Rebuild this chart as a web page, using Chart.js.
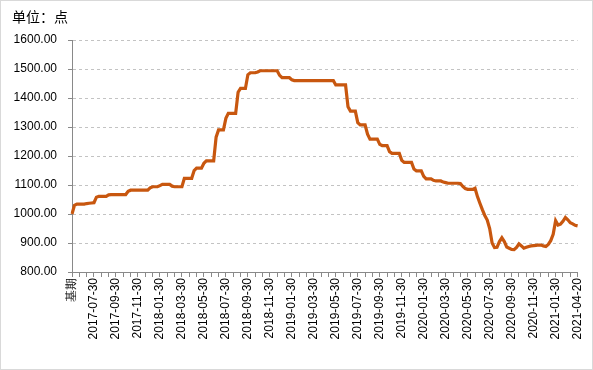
<!DOCTYPE html>
<html>
<head>
<meta charset="utf-8">
<script src="https://cdn.jsdelivr.net/npm/chart.js@4/dist/chart.umd.min.js"></script>
<style>
  html, body { margin: 0; padding: 0; background: #fff; }
  #wrap { position: relative; width: 593px; height: 370px; }
  #frame { position: absolute; left: 0; top: 0; right: 0; bottom: 0; border: 1px solid #d9d9d9; pointer-events: none; }
  #unit { position: absolute; left: 12px; top: 6px; font: 14px "Noto Sans CJK SC", sans-serif; color: #000; }
</style>
</head>
<body>
<div id="wrap">
  <canvas id="chart" width="593" height="370"></canvas>
  <div id="unit">单位：点</div>
  <div id="frame"></div>
</div>
<script>
// 可见的横轴标签（每 9 个数据点一个）
const tickLabels = [
    '基期', '2017-07-30', '2017-09-30', '2017-11-30',
    '2018-01-30', '2018-03-30', '2018-05-30', '2018-07-30', '2018-09-30', '2018-11-30',
    '2019-01-30', '2019-03-30', '2019-05-30', '2019-07-30', '2019-09-30', '2019-11-30',
    '2020-01-30', '2020-03-30', '2020-05-30', '2020-07-30', '2020-09-30', '2020-11-30',
    '2021-01-30', '2021-04-20'
];
const labelStep = 9;

// 指数值（点）
const indexValues = [
    1000, 1030, 1034, 1034, 1034, 1034, 1036, 1037, 1038, 1039,
    1058, 1061, 1061, 1061, 1061, 1066, 1067, 1067, 1067, 1067,
    1067, 1067, 1067, 1078, 1082, 1082, 1082, 1082, 1082, 1082,
    1082, 1082, 1090, 1094, 1094, 1094, 1098, 1102, 1102, 1102,
    1102, 1096, 1094, 1094, 1094, 1094, 1123, 1123, 1123, 1123,
    1150, 1158, 1158, 1158, 1175, 1183, 1183, 1183, 1183, 1265,
    1290, 1290, 1290, 1330, 1347, 1347, 1347, 1347, 1420, 1433,
    1433, 1433, 1480, 1487, 1487, 1487, 1490, 1494, 1494, 1494,
    1494, 1494, 1494, 1494, 1494, 1478, 1470, 1470, 1470, 1470,
    1463, 1460, 1460, 1460, 1460, 1460, 1460, 1460, 1460, 1460,
    1460, 1460, 1460, 1460, 1460, 1460, 1460, 1460, 1445, 1445,
    1445, 1445, 1445, 1370, 1355, 1355, 1355, 1315, 1307, 1307,
    1307, 1275, 1258, 1258, 1258, 1258, 1240, 1236, 1236, 1236,
    1215, 1209, 1209, 1209, 1209, 1185, 1178, 1178, 1178, 1178,
    1155, 1149, 1149, 1149, 1130, 1121, 1121, 1121, 1116, 1114,
    1114, 1114, 1110, 1108, 1106, 1106, 1106, 1106, 1106, 1105,
    1095, 1088, 1085, 1085, 1085, 1089, 1060, 1037, 1015, 995,
    979, 950, 900, 884, 885, 905, 918, 905, 886, 882,
    878, 877, 885, 897, 890, 882, 885, 888, 890, 891,
    892, 893, 893, 890, 888, 895, 908, 930, 977, 962,
    965, 975, 988, 980, 970, 966, 961, 959
];

const categories = indexValues.map((v, i) => i % labelStep === 0 ? tickLabels[i / labelStep] : '');

const axisColor = '#898989';
const tickFont = { family: '"Liberation Sans", Arial, sans-serif', size: 12 };

new Chart(document.getElementById('chart').getContext('2d'), {
    type: 'line',
    data: {
        labels: categories,
        datasets: [{
            data: indexValues,
            borderColor: '#C8570F',
            borderWidth: 3.2,
            pointRadius: 0,
            tension: 0,
            fill: false
        }]
    },
    options: {
        responsive: false,
        animation: false,
        layout: { padding: { top: 40, right: 13, left: 0, bottom: 0 } },
        plugins: {
            legend: { display: false },
            tooltip: { enabled: false }
        },
        scales: {
            x: {
                type: 'category',
                offset: false,
                afterFit: s => { s.height = 98; },
                ticks: {
                    autoSkip: false,
                    maxRotation: 90,
                    minRotation: 90,
                    padding: 1,
                    color: '#000',
                    font: tickFont,
                    callback: (v, i) => categories[i]
                },
                grid: {
                    drawOnChartArea: false,
                    tickLength: 5,
                    tickColor: ctx => ctx.index % 3 === 0 ? axisColor : 'rgba(0,0,0,0)'
                },
                border: { color: axisColor, width: 1 }
            },
            y: {
                min: 800,
                max: 1600,
                afterFit: s => { s.width = 72; },
                ticks: {
                    stepSize: 100,
                    padding: 11,
                    color: '#000',
                    font: tickFont,
                    callback: v => v.toFixed(2)
                },
                grid: {
                    color: ctx => ctx.tick && ctx.tick.value === 800 ? 'rgba(0,0,0,0)' : '#c3c3c3',
                    tickColor: axisColor,
                    tickLength: 4,
                    tickBorderDash: []
                },
                border: { color: axisColor, width: 1, dash: [3, 3] }
            }
        }
    }
});
</script>
</body>
</html>
